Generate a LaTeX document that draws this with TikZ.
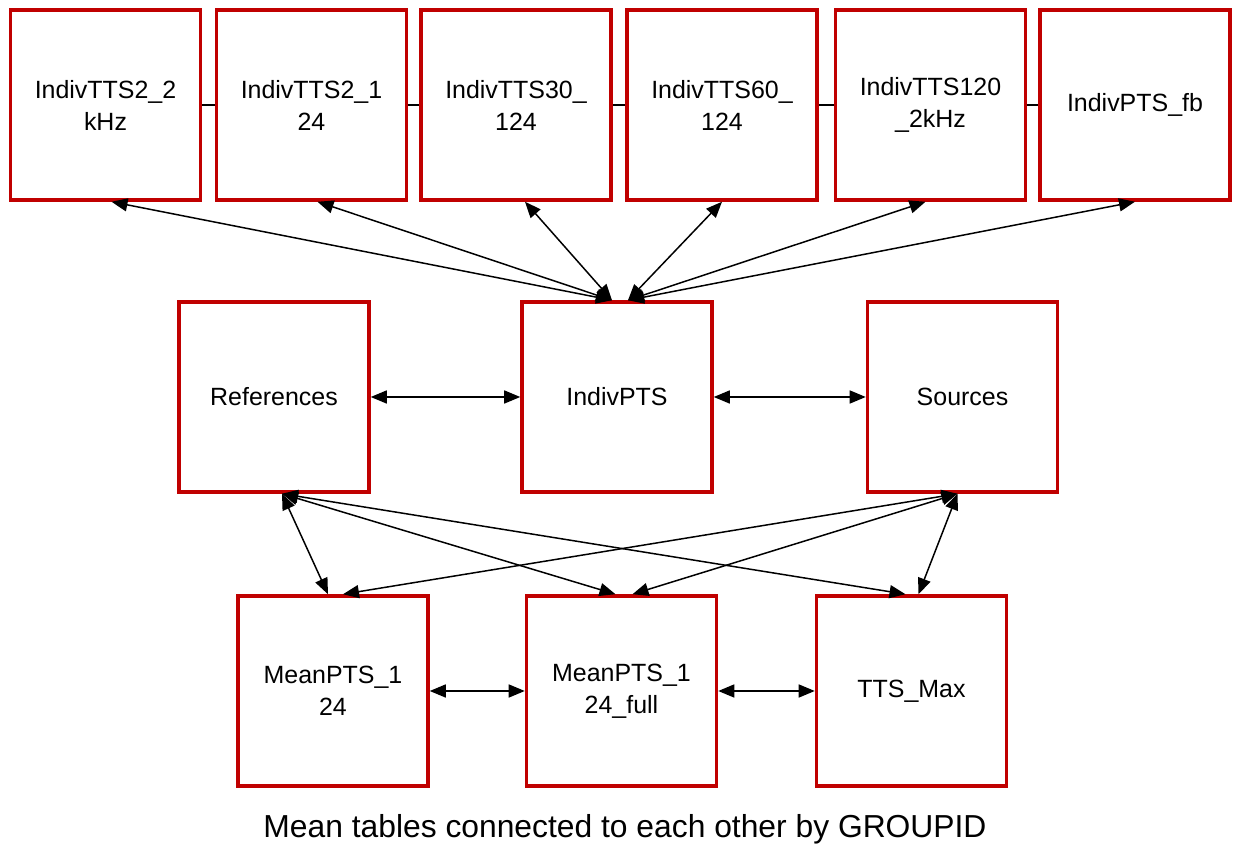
\documentclass[tikz,border=0pt]{standalone}
\usepackage{fontspec}
\setmainfont{Liberation Sans}
\usetikzlibrary{arrows.meta}
\definecolor{tblred}{RGB}{192,0,0}

\begin{document}
\begin{tikzpicture}
  [tbl/.style={draw=tblred,line width=2pt,minimum size=3.8cm,inner sep=0pt,
     align=center,font=\fontsize{14.2}{18.2}\selectfont},
   link/.style={<->,line width=.85pt,>={Triangle[length=.32cm,width=.26cm]}}]
  \useasboundingbox (0,0) rectangle (24.7,17);
  % hàng trên
  \foreach \n/\x/\t in {t1/2.11/{IndivTTS2\_2\\kHz},t2/6.23/{IndivTTS2\_1\\24},
    t3/10.32/{IndivTTS30\_\\124},t4/14.44/{IndivTTS60\_\\124},
    t5/18.61/{IndivTTS120\\\_2kHz},t6/22.7/{IndivPTS\_fb}}
  \node[tbl] (\n) at (\x,14.9) {\t};
  \foreach \a/\b in {t1/t2,t2/t3,t3/t4,t4/t5,t5/t6}
  \draw[line width=.6pt] (\a.east)--(\b.west);
  % hàng giữa
  \node[tbl] (ref) at (5.48,9.06) {References};
  \node[tbl] (pts) at (12.34,9.06) {IndivPTS};
  \node[tbl] (src) at (19.25,9.06) {Sources};
  % hàng dưới
  \node[tbl] (m1) at (6.66,3.18) {MeanPTS\_1\\24};
  \node[tbl] (m2) at (12.43,3.18) {MeanPTS\_1\\24\_full};
  \node[tbl] (tmax) at (18.23,3.18) {TTS\_Max};
  \node[font=\fontsize{18.1}{22}\selectfont] (cap) at (12.5,.42)
  {Mean tables connected to each other by GROUPID};
  % mũi tên lên hàng trên
  \foreach \n/\s in {t1/.12,t2/.12,t3/.18}
  \draw[link] ([xshift=-.1cm]pts.north)--([xshift=\s cm]\n.south);
  \foreach \n/\s in {t4/0,t5/-.1,t6/0}
  \draw[link] ([xshift=.22cm]pts.north)--([xshift=\s cm]\n.south);
  \draw[link] (ref)--(pts);
  \draw[link] (pts)--(src);
  % mũi tên xuống hàng dưới
  \foreach \n/\s in {m1/-.1,m2/-.12,tmax/-.12}
  \draw[link] ([xshift=.16cm]ref.south)--([xshift=\s cm]\n.north);
  \foreach \n/\s in {m1/.2,m2/.22,tmax/.14}
  \draw[link] ([xshift=-.1cm]src.south)--([xshift=\s cm]\n.north);
  \draw[link] (m1)--(m2);
  \draw[link] (m2)--(tmax);
\end{tikzpicture}
\end{document}
